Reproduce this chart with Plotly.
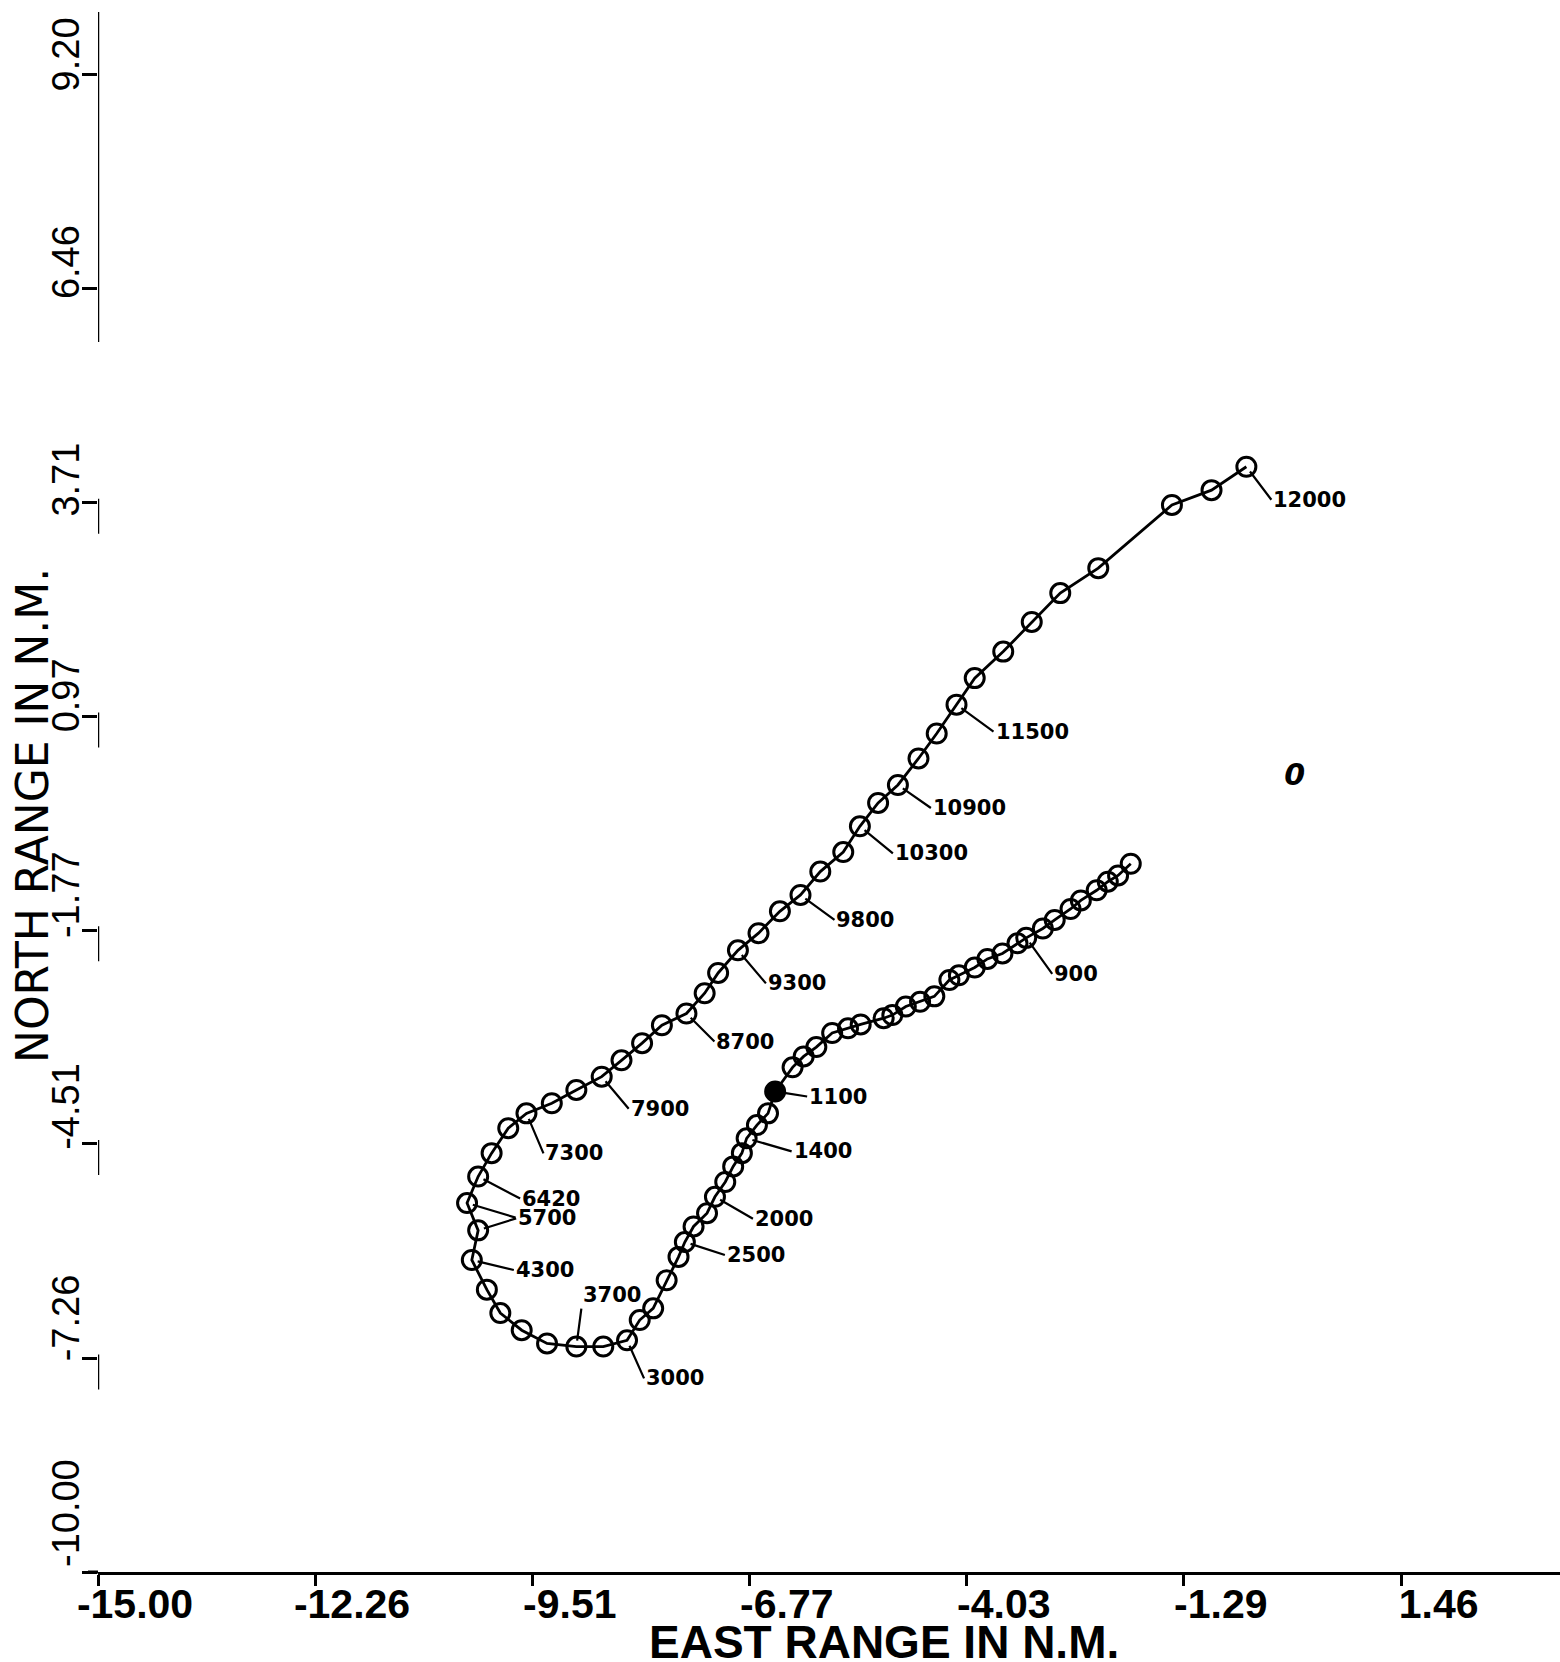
import plotly.graph_objects as go

# ---------------- data ----------------
# Ground track in time order: starts at the right end of the lower branch,
# runs through 900 ... 3000 (bottom of the loop) ... up to 12000.
east_nm = [
    -1.96, -2.12, -2.25, -2.39, -2.59, -2.72, -2.92, -3.07, -3.28, -3.39,
    -3.58, -3.77, -3.93, -4.13, -4.25, -4.44, -4.62, -4.80, -4.97, -5.08,
    -5.37, -5.53, -5.73, -5.93, -6.09, -6.23, -6.45,
    -6.54, -6.68, -6.81, -6.87, -6.98, -7.08, -7.21, -7.31, -7.48, -7.59,
    -7.67, -7.82, -7.99, -8.16, -8.32, -8.62, -8.96, -9.33, -9.65, -9.92,
    -10.09, -10.28, -10.20, -10.34, -10.20, -10.03, -9.82, -9.59, -9.27, -8.96,
    -8.64, -8.39, -8.13, -7.88, -7.57, -7.34, -7.17, -6.92, -6.66, -6.39,
    -6.13, -5.88, -5.59, -5.38, -5.15, -4.90, -4.64, -4.41, -4.16, -3.93,
    -3.57, -3.21, -2.85, -2.37, -1.44, -0.94, -0.50,
]
north_nm = [
    -0.92, -1.07, -1.15, -1.26, -1.39, -1.50, -1.64, -1.75, -1.87, -1.94,
    -2.07, -2.14, -2.25, -2.35, -2.41, -2.62, -2.69, -2.75, -2.86, -2.90,
    -2.98, -3.03, -3.09, -3.27, -3.39, -3.53, -3.84,
    -4.12, -4.27, -4.44, -4.63, -4.80, -5.00, -5.19, -5.40, -5.57, -5.77,
    -5.96, -6.26, -6.62, -6.77, -7.03, -7.11, -7.11, -7.07, -6.90, -6.68,
    -6.38, -6.00, -5.62, -5.27, -4.93, -4.63, -4.31, -4.12, -3.99, -3.82,
    -3.65, -3.44, -3.22, -2.99, -2.84, -2.58, -2.32, -2.03, -1.81, -1.53,
    -1.32, -1.02, -0.77, -0.44, -0.14, 0.09, 0.43, 0.75, 1.12, 1.46,
    1.80, 2.18, 2.55, 2.87, 3.68, 3.87, 4.17,
]

# point labels (text and the index of the track point they tag)
label_text = ["900", "1100", "1400", "2000", "2500", "3000", "3700", "4300",
              "5700", "6420", "7300", "7900", "8700", "9300", "9800",
              "10300", "10900", "11500", "12000"]
label_index = [8, 26, 29, 33, 36, 41, 43, 48,
               49, 51, 54, 57, 61, 64, 67,
               70, 72, 75, 83]
# track point drawn as a filled (inked-over) mark
filled_index = [26]

# lone origin mark
origin_text = "0"
origin_east = [0.11]
origin_north = [0.19]

x_ticks = [-15.00, -12.26, -9.51, -6.77, -4.03, -1.29, 1.46]
x_tick_text = ["-15.00", "-12.26", "-9.51", "-6.77", "-4.03", "-1.29", "1.46"]
y_ticks = [-10.00, -7.26, -4.51, -1.77, 0.97, 3.71, 6.46, 9.20]
y_tick_text = ["-10.00", "-7.26", "-4.51", "-1.77", "0.97", "3.71", "6.46", "9.20"]

x_title = "EAST RANGE IN N.M."
y_title = "NORTH RANGE IN N.M."

# ---------------- styling ----------------
label_dx = [26, 32, 45, 38, 40, 17, 5, 42, 38, 42, 17, 27, 28, 28, 34, 33, 33, 37, 25]
label_dy = [36, 5, 13, 22, 13, 38, -38, 10, -12, 22, 40, 32, 28, 33, 25, 27, 23, 27, 33]
y_label_lift = [59, 40, 37, 35, 21, 23, 26, 20]   # px the north labels sit above their tick

W, H = 1560, 1662
ML, MR, MT, MB = 98, 0, 12, 90
XR = [-15.0, 3.46]
YR = [-10.0, 10.0]
pw = W - ML - MR
ph = H - MT - MB

fig = go.Figure()
fig.add_trace(go.Scatter(
    x=east_nm, y=north_nm, mode="lines+markers",
    line=dict(color="black", width=2.8),
    marker=dict(symbol="circle-open", size=19, color="black",
                line=dict(width=3, color="black")),
    hoverinfo="skip", showlegend=False,
))
fig.add_trace(go.Scatter(
    x=[east_nm[i] for i in filled_index], y=[north_nm[i] for i in filled_index],
    mode="markers", marker=dict(symbol="circle", size=18, color="black"),
    hoverinfo="skip", showlegend=False,
))
fig.add_trace(go.Scatter(
    x=origin_east, y=origin_north, mode="text", text=[origin_text],
    textfont=dict(family="DejaVu Sans", size=30, color="black", style="italic",
                  weight="bold"),
    showlegend=False, hoverinfo="skip",
))

annotations = []
for txt, idx, dx, dy in zip(label_text, label_index, label_dx, label_dy):
    annotations.append(dict(
        x=east_nm[idx], y=north_nm[idx], xref="x", yref="y",
        text=txt, showarrow=True, arrowhead=0, arrowwidth=2.2, arrowcolor="black",
        ax=dx, ay=dy, axref="pixel", ayref="pixel",
        xanchor="left", yanchor="bottom" if dy < 0 and dx < 10 else "middle",
        font=dict(family="DejaVu Sans", size=21, color="black", weight="bold"),
        standoff=6,
    ))
# second leader converging on the 5700 tag
i57 = label_text.index("5700")
annotations.append(dict(
    x=east_nm[label_index[i57] + 1], y=north_nm[label_index[i57] + 1],
    xref="x", yref="y", text="", showarrow=True, arrowhead=0, arrowwidth=2.2,
    arrowcolor="black", ax=50, ay=15, axref="pixel", ayref="pixel", standoff=6,
))

# north tick labels, rotated, sitting a little above their ticks
for v, t, lift in zip(y_ticks, y_tick_text, y_label_lift):
    annotations.append(dict(
        text=t, xref="paper", yref="y", x=(66 - ML) / pw, y=v, yshift=lift,
        textangle=-90, showarrow=False, xanchor="center", yanchor="middle",
        font=dict(family="Liberation Sans", size=38, color="black"),
    ))

annotations.append(dict(
    text=x_title, xref="paper", yref="paper",
    x=(884 - ML) / pw, y=-(1642 - (H - MB)) / ph,
    xanchor="center", yanchor="middle", showarrow=False,
    font=dict(family="Liberation Sans", size=46, color="black", weight="bold"),
))
annotations.append(dict(
    text=y_title, xref="paper", yref="paper",
    x=(33 - ML) / pw, y=((H - MB) - 816) / ph,
    xanchor="center", yanchor="middle", showarrow=False, textangle=-90,
    font=dict(family="DejaVu Sans", size=44, color="black"),
))

shapes = []
# solid upper part of the (faded) north axis
shapes.append(dict(type="line", xref="x", yref="y", x0=-15, x1=-15,
                   y0=5.77, y1=YR[1], line=dict(color="black", width=2.5)))
# short surviving pieces of the north axis next to the lower ticks
for t in y_ticks[1:6]:
    shapes.append(dict(type="line", xref="x", yref="y", x0=-15, x1=-15,
                       y0=t - 0.4, y1=t + 0.05, line=dict(color="black", width=2.5)))
# east axis stub left of the corner
shapes.append(dict(type="line", xref="paper", yref="paper", x0=-10 / pw, x1=0,
                   y0=0, y1=0, line=dict(color="black", width=3)))

fig.update_layout(
    width=W, height=H,
    margin=dict(l=ML, r=MR, t=MT, b=MB, pad=0),
    paper_bgcolor="white", plot_bgcolor="white",
    showlegend=False,
    annotations=annotations,
    shapes=shapes,
    xaxis=dict(
        range=XR, tickmode="array", tickvals=x_ticks, ticktext=x_tick_text,
        ticks="outside", ticklen=11, tickwidth=2.5, tickcolor="black",
        showline=True, linewidth=3, linecolor="black",
        showgrid=False, zeroline=False, ticklabelshift=37, ticklabelstandoff=-17,
        tickfont=dict(family="Liberation Sans", size=41, color="black", weight="bold"),
    ),
    yaxis=dict(
        range=YR, tickmode="array", tickvals=y_ticks,
        ticks="outside", ticklen=15, tickwidth=2.5, tickcolor="black",
        showticklabels=False,
        showline=False, showgrid=False, zeroline=False,
    ),
)

fig.write_html("out.html")
